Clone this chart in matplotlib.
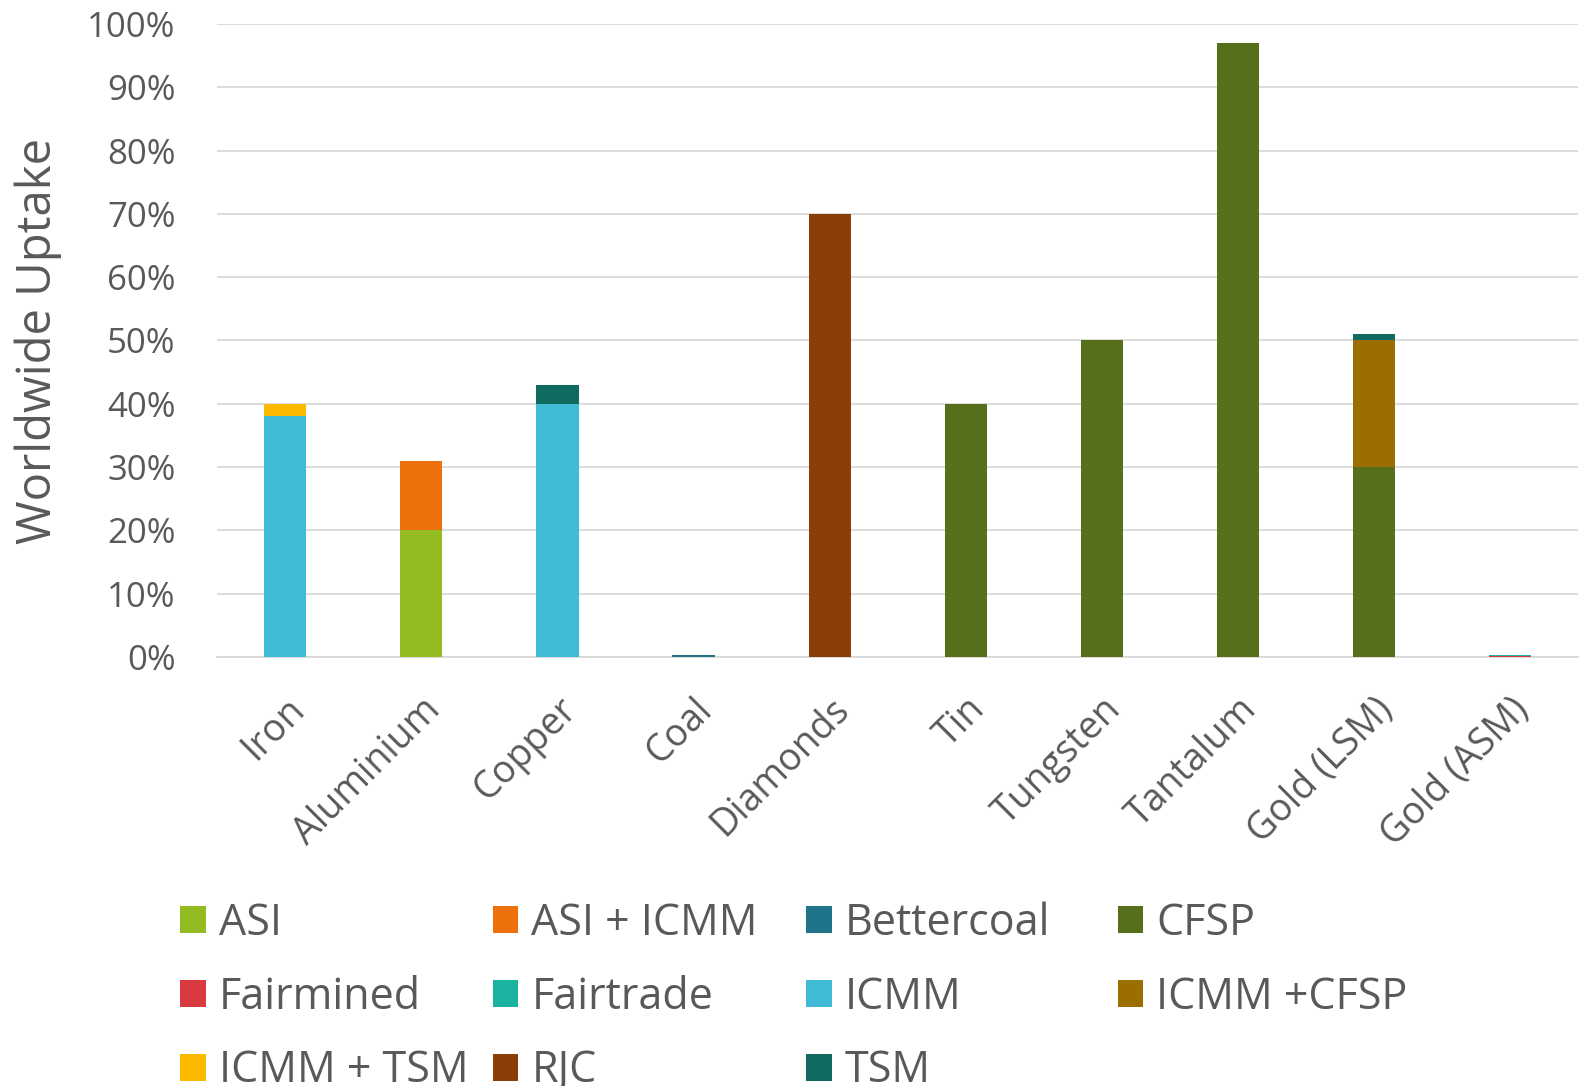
import matplotlib.pyplot as plt
import numpy as np
from matplotlib.patches import Patch
from matplotlib.ticker import PercentFormatter

minerals = ["Iron", "Aluminium", "Copper", "Coal", "Diamonds", "Tin",
            "Tungsten", "Tantalum", "Gold (LSM)", "Gold (ASM)"]

schemes = ["ASI", "ASI + ICMM", "Bettercoal", "CFSP", "Fairmined", "Fairtrade",
           "ICMM", "ICMM +CFSP", "ICMM + TSM", "RJC", "TSM"]

# worldwide uptake (%) per scheme, one value per mineral
asi        = [0, 20, 0, 0, 0, 0, 0, 0, 0, 0]
asi_icmm   = [0, 11, 0, 0, 0, 0, 0, 0, 0, 0]
bettercoal = [0, 0, 0, 0.25, 0, 0, 0, 0, 0, 0]
cfsp       = [0, 0, 0, 0, 0, 40, 50, 97, 30, 0]
fairmined  = [0, 0, 0, 0, 0, 0, 0, 0, 0, 0.1]
fairtrade  = [0, 0, 0, 0, 0, 0, 0, 0, 0, 0.15]
icmm       = [38, 0, 40, 0, 0, 0, 0, 0, 0, 0]
icmm_cfsp  = [0, 0, 0, 0, 0, 0, 0, 0, 20, 0]
icmm_tsm   = [2, 0, 0, 0, 0, 0, 0, 0, 0, 0]
rjc        = [0, 0, 0, 0, 70, 0, 0, 0, 0, 0]
tsm        = [0, 0, 3, 0, 0, 0, 0, 0, 1, 0]

series = [asi, asi_icmm, bettercoal, cfsp, fairmined, fairtrade,
          icmm, icmm_cfsp, icmm_tsm, rjc, tsm]
colors = ["#92BC22", "#EE700A", "#1F7489", "#566F1A", "#D83A40", "#1AB39F",
          "#40BAD5", "#9A6E00", "#FBB900", "#8B3F06", "#0F6B5F"]

# stacking order as drawn (bottom first)
stack_order = [0, 3, 6, 2, 4, 5, 1, 7, 8, 9, 10]

TXT = "#595959"
plt.rcParams["font.family"] = ["Open Sans", "DejaVu Sans"]

fig = plt.figure(figsize=(15.86, 10.86), dpi=100)
ax = fig.add_axes([0.137, 0.395, 0.858, 0.583])

x = np.arange(len(minerals))
bottom = np.zeros(len(minerals))
for i in stack_order:
    vals = np.array(series[i], dtype=float)
    ax.bar(x, vals, width=0.31, bottom=bottom, color=colors[i], zorder=3)
    bottom += vals

ax.set_xlim(-0.5, len(minerals) - 0.5)
ax.set_ylim(0, 100)
ax.set_yticks(np.arange(0, 101, 10))
ax.yaxis.set_major_formatter(PercentFormatter(decimals=0))
ax.grid(axis="y", color="#D9D9D9", linewidth=1.3, zorder=0)
for s in ["top", "right", "left"]:
    ax.spines[s].set_visible(False)
ax.spines["bottom"].set_color("#D9D9D9")
ax.spines["bottom"].set_linewidth(1.3)
ax.tick_params(axis="both", length=0, colors=TXT)
ax.tick_params(axis="y", pad=30, labelsize=25)
ax.set_xticks(x)
ax.set_xticklabels(minerals, rotation=45, ha="right", rotation_mode="anchor",
                   fontsize=27, color=TXT)
ax.tick_params(axis="x", pad=24)
ax.set_ylabel("Worldwide Uptake", fontsize=34, color=TXT)
ax.yaxis.set_label_coords(-0.114, 0.5)

# legend reads row by row in four fixed-width columns
cols = [[0, 4, 8], [1, 5, 9], [2, 6, 10], [3, 7]]
col_x = [0.1135, 0.3106, 0.508, 0.7047]
for cx, col in zip(col_x, cols):
    leg = fig.legend([Patch(facecolor=colors[i]) for i in col],
                     [schemes[i] for i in col],
                     loc="upper left", bbox_to_anchor=(cx, 0.170),
                     frameon=False, fontsize=31, handlelength=0.6,
                     handleheight=0.6, handletextpad=0.3, labelspacing=0.68,
                     borderpad=0, borderaxespad=0)
    for t in leg.get_texts():
        t.set_color(TXT)

fig.savefig("out.png", dpi=100)
